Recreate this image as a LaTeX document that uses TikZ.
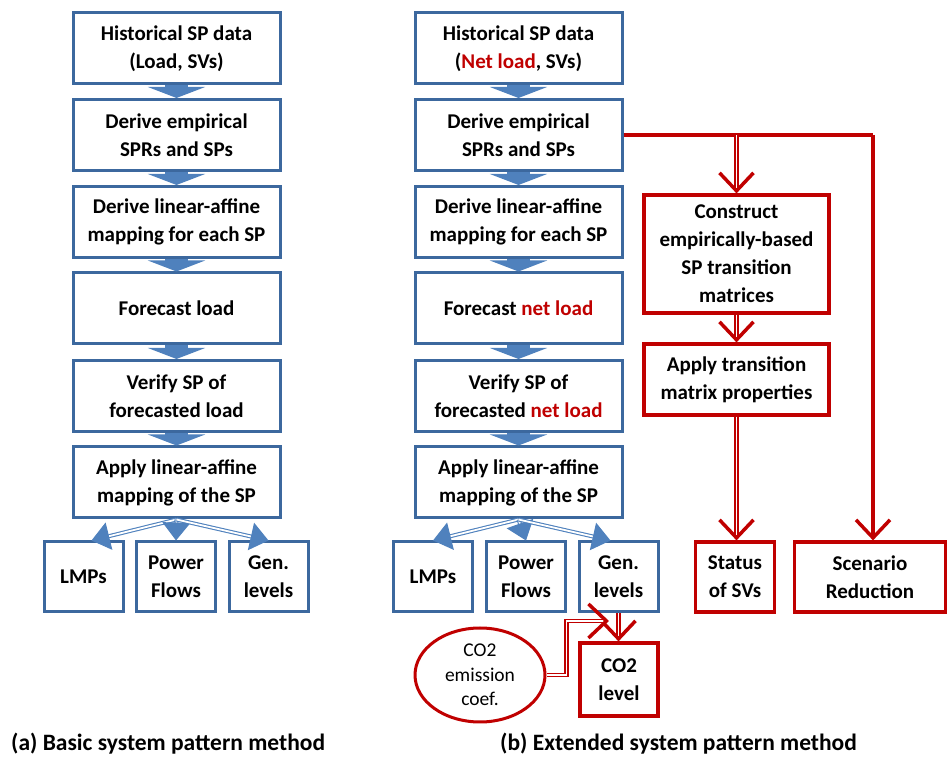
\documentclass[tikz,border=0pt]{standalone}
\usepackage{fontspec}
\setmainfont{Carlito}
\usetikzlibrary{arrows.meta,calc,shapes.geometric}
\definecolor{bborder}{RGB}{60,104,158}
\definecolor{bfill}{RGB}{79,129,189}
\definecolor{rred}{RGB}{192,0,0}
\newcommand{\rt}[1]{\textcolor{rred}{#1}}
\begin{document}
\begin{tikzpicture}[x=1pt,y=1pt,
  boxtxt/.style={align=center, inner sep=0pt, font=\bfseries\fontsize{21}{28}\selectfont},
  bbox/.style={boxtxt, draw=bborder, line width=3pt, fill=white, minimum width=207pt, minimum height=71pt},
  sbox/.style={boxtxt, draw=bborder, line width=3pt, fill=white, minimum width=79pt, minimum height=70pt},
  rbox/.style={boxtxt, draw=rred, line width=3.2pt, fill=white},
  blockarrow/.style={draw=bfill, line width=23pt, -{Triangle[width=57pt,length=11pt]}},
  bdbl/.style={draw=bfill, double=white, double distance=1.8pt, line width=1.1pt, -{Triangle[width=28pt,length=18pt]}},
  rtip/.style={-{Straight Barb[width=34pt,length=18pt,line width=3.5pt]}},
  rdbl/.style={draw=rred, double=white, double distance=1.8pt, line width=1.3pt, rtip},
  rline/.style={draw=rred, line width=3.2pt},
  caption/.style={anchor=base west, inner sep=0pt, font=\bfseries\fontsize{23.5}{28}\selectfont}
]
\useasboundingbox (0,0) rectangle (947,757);

% ---------- left column (a)
\node[bbox] (a1) at (176.5,708.5) {Historical SP data\\(Load, SVs)};
\node[bbox] (a2) at (176.5,622) {Derive empirical\\SPRs and SPs};
\node[bbox] (a3) at (176.5,535) {Derive linear-affine\\mapping for each SP};
\node[bbox] (a4) at (176.5,448.5) {Forecast load};
\node[bbox] (a5) at (176.5,361) {Verify SP of\\forecasted load};
\node[bbox] (a6) at (176.5,274.5) {Apply linear-affine\\mapping of the SP};
\node[sbox] (alm) at (83.5,180) {LMPs};
\node[sbox] (apf) at (176,180) {Power\\Flows};
\node[sbox] (agl) at (268.5,180) {Gen.\\levels};

\draw[blockarrow] (a1) -- (a2);
\draw[blockarrow] (a2) -- (a3);
\draw[blockarrow] (a3) -- (a4);
\draw[blockarrow] (a4) -- (a5);
\draw[blockarrow] (a5) -- (a6);
\draw[bdbl] (a6.south) -- ($(alm.north)+(8,0)$);
\draw[bdbl] (a6.south) -- (apf.north);
\draw[bdbl] (a6.south) -- (agl.north);

% ---------- right column (b)
\node[bbox] (b1) at (518.5,708.5) {Historical SP data\\(\rt{Net load}, SVs)};
\node[bbox] (b2) at (518.5,622) {Derive empirical\\SPRs and SPs};
\node[bbox] (b3) at (518.5,535) {Derive linear-affine\\mapping for each SP};
\node[bbox] (b4) at (518.5,448.5) {Forecast \rt{net load}};
\node[bbox] (b5) at (518.5,361) {Verify SP of\\forecasted \rt{net load}};
\node[bbox] (b6) at (518.5,274.5) {Apply linear-affine\\mapping of the SP};
\node[sbox] (blm) at (433,180) {LMPs};
\node[sbox] (bpf) at (526,180) {Power\\Flows};
\node[sbox] (bgl) at (618.5,180) {Gen.\\levels};

\draw[blockarrow] (b1) -- (b2);
\draw[blockarrow] (b2) -- (b3);
\draw[blockarrow] (b3) -- (b4);
\draw[blockarrow] (b4) -- (b5);
\draw[blockarrow] (b5) -- (b6);
\draw[bdbl] (b6.south) -- (blm.north);
\draw[bdbl] (b6.south) -- (bpf.north);
\draw[bdbl] (b6.south) -- ($(bgl.north)+(-8,0)$);

% ---------- red part
\node[rbox, minimum width=185pt, minimum height=118pt] (cons) at (736.5,503)
  {Construct\\empirically-based\\SP transition\\matrices};
\node[rbox, minimum width=185pt, minimum height=71pt] (apt) at (736.5,377.5)
  {Apply transition\\matrix properties};
\node[rbox, minimum width=79pt, minimum height=70pt] (st) at (735,180) {Status\\of SVs};
\node[rbox, minimum width=151pt, minimum height=70pt] (sr) at (870,180) {Scenario\\Reduction};
\node[rbox, minimum width=78pt, minimum height=73pt] (co2) at (619,77.5) {CO2\\level};
\node[ellipse, draw=rred, line width=3pt, fill=white, minimum width=130pt, minimum height=94pt,
  inner sep=0pt, align=center, font=\fontsize{19.5}{24.5}\selectfont] (ell) at (480,82)
  {CO2\\emission\\coef.};

\coordinate (corner) at (873,622);
\coordinate (co2in) at (609,136);

\draw[rline] (b2.east) -- (corner);
\draw[rline, rtip] (corner) -- (corner |- sr.north);
\draw[rdbl] (cons.north |- b2.east) -- (cons.north);
\draw[rdbl] (cons) -- (apt);
\draw[rdbl] (apt.south) -- (apt.south |- st.north);
\draw[rdbl] (bgl.south) -- (bgl.south |- co2.north);
\draw[rdbl] (ell.east) -- ++(20,0) |- (co2in);

% ---------- captions
\node[caption] (capa) at (11,6) {(a) Basic system pattern method};
\node[caption] (capb) at (500,6) {(b) Extended system pattern method};
\end{tikzpicture}
\end{document}
